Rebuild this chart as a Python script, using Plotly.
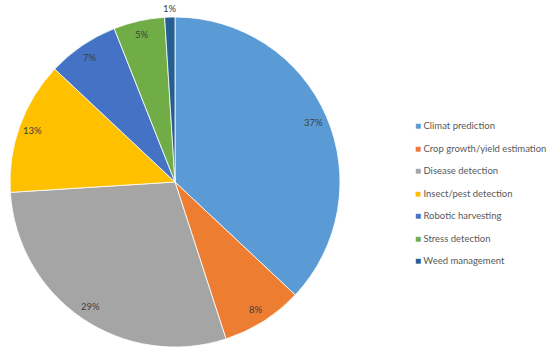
import math
import plotly.graph_objects as go

# Share of studies per application area
categories = [
    "Climat prediction",
    "Crop growth/yield estimation",
    "Disease detection",
    "Insect/pest detection",
    "Robotic harvesting",
    "Stress detection",
    "Weed management",
]
shares = [37, 8, 29, 13, 7, 5, 1]
colors = ["#5B9BD5", "#ED7D31", "#A5A5A5", "#FFC000", "#4472C4", "#70AD47", "#255E91"]

W, H = 550, 357
CX, CY, R = 175, 182, 165          # pie centre and radius in pixels
LABEL_FONT = dict(family="Lato, 'Liberation Sans', sans-serif", size=9.5, color="#404040")
LEGEND_FONT = dict(family="Lato, 'Liberation Sans', sans-serif", size=9.5, color="#595959")

fig = go.Figure(
    go.Pie(
        labels=categories,
        values=shares,
        sort=False,
        direction="clockwise",
        rotation=0,
        marker=dict(colors=colors, line=dict(color="white", width=0.8)),
        textinfo="none",
        hoverinfo="label+percent",
        showlegend=False,
        domain=dict(x=[(CX - R) / W, (CX + R) / W],
                    y=[1 - (CY + R) / H, 1 - (CY - R) / H]),
    )
)

# Percentage labels placed along each slice's mid-angle
annotations = []
total = sum(shares)
cum = 0
for v in shares:
    theta = 2 * math.pi * (cum + v / 2) / total
    cum += v
    r = R * (1.055 if v < 3 else 0.915)
    px = CX + r * math.sin(theta)
    py = CY - r * math.cos(theta)
    annotations.append(dict(
        x=px / W, y=1 - py / H, xref="paper", yref="paper",
        text=f"{round(100 * v / total)}%", showarrow=False,
        font=LABEL_FONT, xanchor="center", yanchor="middle",
    ))

# Legend: coloured square followed by the category name
LEG_X, LEG_Y0, LEG_DY = 413, 125, 22.5
for i, (name, col) in enumerate(zip(categories, colors)):
    annotations.append(dict(
        x=LEG_X / W, y=1 - (LEG_Y0 + i * LEG_DY) / H, xref="paper", yref="paper",
        text=f"<span style='color:{col};font-size:10px'>■</span> {name}",
        showarrow=False, font=LEGEND_FONT, xanchor="left", yanchor="middle",
    ))

fig.update_layout(
    width=W, height=H,
    margin=dict(l=0, r=0, t=0, b=0),
    paper_bgcolor="white",
    plot_bgcolor="white",
    annotations=annotations,
)

fig.write_html("out.html")
